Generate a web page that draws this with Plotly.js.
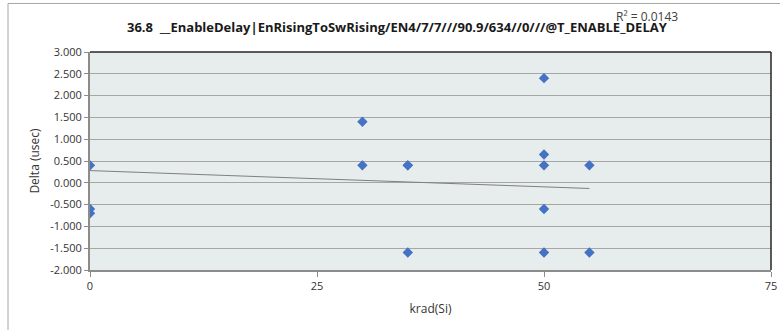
<!DOCTYPE html>
<html>
<head>
<meta charset="utf-8">
<script src="https://cdn.plot.ly/plotly-3.0.1.min.js"></script>
<style>html,body{margin:0;padding:0;background:#fff;}#chart{width:780px;height:330px;}</style>
</head>
<body>
<div id="chart"></div>
<script>
// Data
var kradX = [0, 0, 0, 30, 30, 35, 35, 35, 50, 50, 50, 50, 50, 55, 55];
var deltaY = [0.4, -0.6, -0.7, 1.4, 0.4, 0.4, 0.4, -1.6, 2.4, 0.65, 0.4, -0.6, -1.6, 0.4, -1.6];
var trendX = [0, 55];
var trendY = [0.28, -0.13];
var xTicks = [0, 25, 50, 75];
var yTicks = [3, 2.5, 2, 1.5, 1, 0.5, 0, -0.5, -1, -1.5, -2];
var chartTitle = "36.8  __EnableDelay|EnRisingToSwRising/EN4/7/7///90.9/634//0///@T_ENABLE_DELAY";
var r2Text = "R² = 0.0143";
var xTitle = "krad(Si)";
var yTitle = "Delta (usec)";

var font = "Open Sans, Liberation Sans, sans-serif";

var traces = [
  {x: trendX, y: trendY, mode: 'lines', type: 'scatter',
   line: {color: '#7f7f7f', width: 1}, hoverinfo: 'skip', showlegend: false},
  {x: kradX, y: deltaY, mode: 'markers', type: 'scatter',
   marker: {symbol: 'diamond', size: 8, color: '#4472c4'}, showlegend: false}
];

var layout = {
  width: 780, height: 330,
  margin: {l: 90, r: 9, t: 52, b: 60},
  paper_bgcolor: '#ffffff',
  plot_bgcolor: '#e7ecec',
  showlegend: false,
  font: {family: font, size: 11, color: '#333333'},
  xaxis: {
    range: [0, 75], tickvals: xTicks, ticktext: xTicks.map(String),
    showgrid: false, zeroline: false,
    showline: true, linecolor: '#8c8c8c', linewidth: 2,
    ticks: 'outside', ticklen: 5, tickcolor: '#8c8c8c', tickwidth: 1,
    tickfont: {family: font, size: 11, color: '#333333'},
    title: {text: xTitle, font: {family: font, size: 12, color: '#333333'}, standoff: 12}
  },
  yaxis: {
    range: [-2, 3], tickvals: yTicks, ticktext: yTicks.map(function(v){return v.toFixed(3);}),
    showgrid: true, gridcolor: '#a6a6a6', gridwidth: 1,
    zeroline: false,
    showline: true, linecolor: '#8c8c8c', linewidth: 2,
    ticks: 'outside', ticklen: 4, tickcolor: '#8c8c8c', tickwidth: 1,
    tickfont: {family: font, size: 11, color: '#333333'},
    title: {text: yTitle, font: {family: font, size: 12, color: '#333333'}, standoff: 8}
  },
  shapes: [
    {type: 'rect', xref: 'paper', yref: 'paper', x0: -0.1204, x1: 1.05, y0: -0.35, y1: 1.2225,
     line: {color: '#a6a6a6', width: 1}, fillcolor: 'rgba(0,0,0,0)', layer: 'below'},
    {type: 'line', xref: 'paper', yref: 'paper', x0: 0, x1: 1, y0: 1, y1: 1,
     line: {color: '#262626', width: 1.5}},
    {type: 'line', xref: 'paper', yref: 'paper', x0: 1, x1: 1, y0: 0, y1: 1,
     line: {color: '#262626', width: 1.5}}
  ],
  annotations: [
    {text: '<b>' + chartTitle + '</b>', xref: 'paper', yref: 'paper',
     x: (397 - 90) / 681, y: (270 - 27) / 218, xanchor: 'center', yanchor: 'middle',
     showarrow: false, font: {family: font, size: 13, color: '#1a1a1a'}},
    {text: r2Text, xref: 'paper', yref: 'paper',
     x: (647 - 90) / 681, y: (270 - 16) / 218, xanchor: 'center', yanchor: 'middle',
     showarrow: false, font: {family: font, size: 12, color: '#404040'}}
  ]
};

Plotly.newPlot('chart', traces, layout, {displayModeBar: false, staticPlot: true});
</script>
</body>
</html>
